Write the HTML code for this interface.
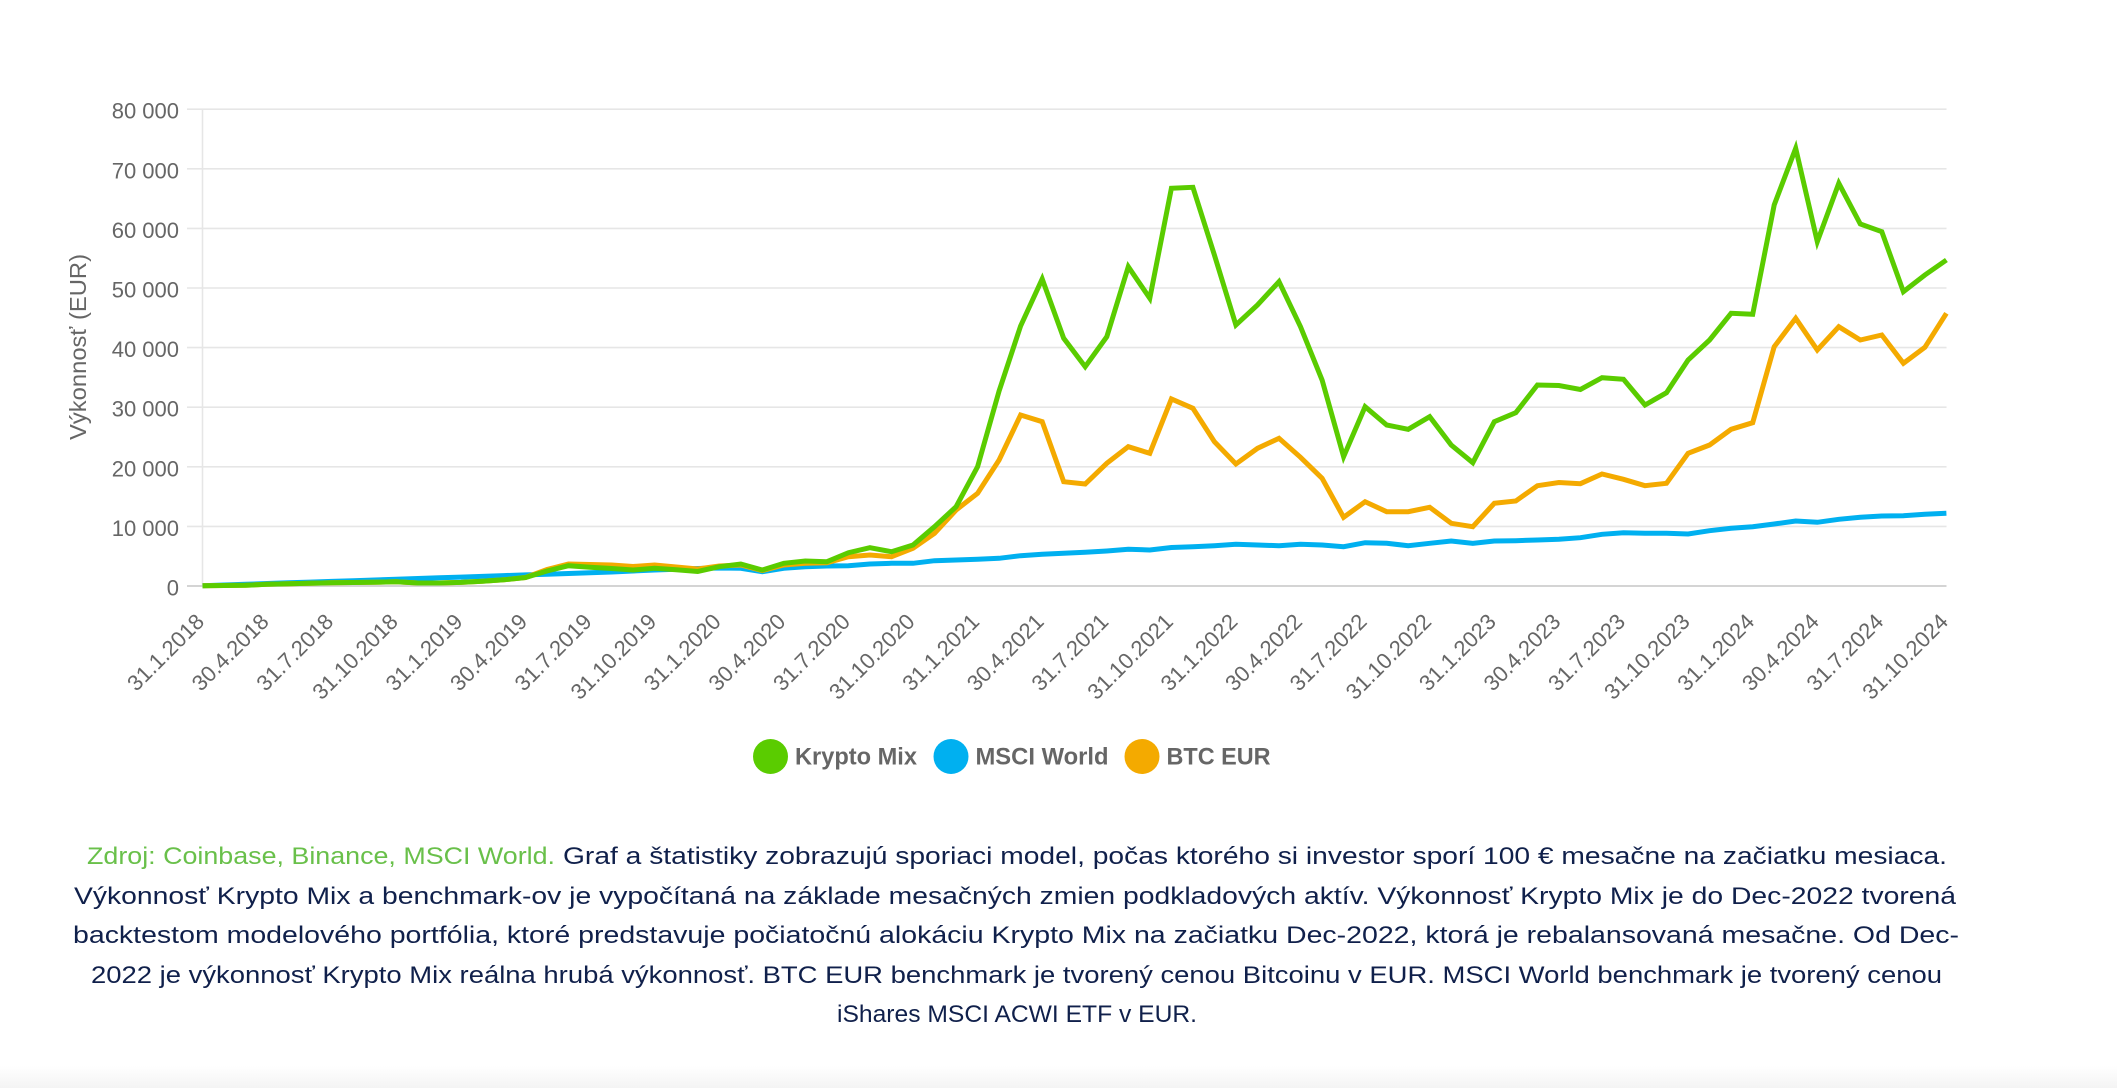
<!DOCTYPE html>
<html>
<head>
<meta charset="utf-8">
<style>
  html, body { margin:0; padding:0; background:#ffffff; }
  svg { display:block; }
</style>
</head>
<body>
<svg width="2117" height="1088" viewBox="0 0 2117 1088" xmlns="http://www.w3.org/2000/svg">
  <defs>
    <linearGradient id="bot" x1="0" y1="0" x2="0" y2="1">
      <stop offset="0" stop-color="#ffffff"/>
      <stop offset="1" stop-color="#f4f4f4"/>
    </linearGradient>
  </defs>
  <rect x="0" y="0" width="2117" height="1088" fill="#ffffff"/>
  <rect x="0" y="1066" width="2117" height="22" fill="url(#bot)"/>

  <!-- gridlines -->
  <g stroke="#e6e6e6" stroke-width="1.6" fill="none">
    <line x1="187" y1="109.2" x2="1946.5" y2="109.2"/>
    <line x1="187" y1="168.8" x2="1946.5" y2="168.8"/>
    <line x1="187" y1="228.4" x2="1946.5" y2="228.4"/>
    <line x1="187" y1="288" x2="1946.5" y2="288"/>
    <line x1="187" y1="347.6" x2="1946.5" y2="347.6"/>
    <line x1="187" y1="407.2" x2="1946.5" y2="407.2"/>
    <line x1="187" y1="466.8" x2="1946.5" y2="466.8"/>
    <line x1="187" y1="526.4" x2="1946.5" y2="526.4"/>
    <line x1="202.5" y1="109" x2="202.5" y2="586"/>
  </g>
  <line x1="187" y1="586" x2="1946.5" y2="586" stroke="#d4d4d4" stroke-width="2"/>

  <!-- y labels -->
  <g font-family="'Liberation Sans', Arial, sans-serif" font-size="22" fill="#666666" text-anchor="end">
    <text x="179" y="118.7">80 000</text>
    <text x="179" y="178.3">70 000</text>
    <text x="179" y="237.9">60 000</text>
    <text x="179" y="297.5">50 000</text>
    <text x="179" y="357.1">40 000</text>
    <text x="179" y="416.7">30 000</text>
    <text x="179" y="476.3">20 000</text>
    <text x="179" y="535.9">10 000</text>
    <text x="179" y="595.5">0</text>
  </g>

  <!-- y axis title -->
  <text transform="translate(86,347) rotate(-90)" text-anchor="middle" font-family="'Liberation Sans', Arial, sans-serif" font-size="23" fill="#666666" textLength="186" lengthAdjust="spacingAndGlyphs">Výkonnosť (EUR)</text>

  <!-- x labels -->
  <g font-family="'Liberation Sans', Arial, sans-serif" font-size="22" fill="#666666" text-anchor="end">
    <text transform="translate(205.5,623) rotate(-45)">31.1.2018</text>
    <text transform="translate(270.1,623) rotate(-45)">30.4.2018</text>
    <text transform="translate(334.7,623) rotate(-45)">31.7.2018</text>
    <text transform="translate(399.3,623) rotate(-45)">31.10.2018</text>
    <text transform="translate(463.9,623) rotate(-45)">31.1.2019</text>
    <text transform="translate(528.5,623) rotate(-45)">30.4.2019</text>
    <text transform="translate(593,623) rotate(-45)">31.7.2019</text>
    <text transform="translate(657.6,623) rotate(-45)">31.10.2019</text>
    <text transform="translate(722.2,623) rotate(-45)">31.1.2020</text>
    <text transform="translate(786.8,623) rotate(-45)">30.4.2020</text>
    <text transform="translate(851.4,623) rotate(-45)">31.7.2020</text>
    <text transform="translate(916,623) rotate(-45)">31.10.2020</text>
    <text transform="translate(980.6,623) rotate(-45)">31.1.2021</text>
    <text transform="translate(1045.2,623) rotate(-45)">30.4.2021</text>
    <text transform="translate(1109.8,623) rotate(-45)">31.7.2021</text>
    <text transform="translate(1174.4,623) rotate(-45)">31.10.2021</text>
    <text transform="translate(1238.9,623) rotate(-45)">31.1.2022</text>
    <text transform="translate(1303.5,623) rotate(-45)">30.4.2022</text>
    <text transform="translate(1368.1,623) rotate(-45)">31.7.2022</text>
    <text transform="translate(1432.7,623) rotate(-45)">31.10.2022</text>
    <text transform="translate(1497.3,623) rotate(-45)">31.1.2023</text>
    <text transform="translate(1561.9,623) rotate(-45)">30.4.2023</text>
    <text transform="translate(1626.5,623) rotate(-45)">31.7.2023</text>
    <text transform="translate(1691.1,623) rotate(-45)">31.10.2023</text>
    <text transform="translate(1755.7,623) rotate(-45)">31.1.2024</text>
    <text transform="translate(1820.3,623) rotate(-45)">30.4.2024</text>
    <text transform="translate(1884.8,623) rotate(-45)">31.7.2024</text>
    <text transform="translate(1949.4,623) rotate(-45)">31.10.2024</text>
  </g>

  <!-- MSCI World (blue) -->
  <polyline fill="none" stroke="#00b0f0" stroke-width="5" stroke-linejoin="miter" stroke-miterlimit="6" points="202.5,585.7 224,585 245.6,584.3 267.1,583.5 288.6,582.8 310.2,582.1 331.7,581.4 353.2,580.7 374.7,580 396.3,579.2 417.8,578.5 439.3,577.8 460.9,577.1 482.4,576.4 503.9,575.6 525.5,574.9 547,574.3 568.5,573.5 590,572.7 611.6,572 633.1,571 654.6,570 676.2,569.3 697.7,568.5 719.2,568 740.8,568.3 762.3,571.7 783.8,568.3 805.3,566.7 826.9,566 848.4,565.7 869.9,564 891.5,563.3 913,563.3 934.5,560.7 956.1,560 977.6,559.3 999.1,558.3 1020.6,555.7 1042.2,554.3 1063.7,553.3 1085.2,552.3 1106.8,551 1128.3,549.3 1149.8,550 1171.4,547.5 1192.9,546.7 1214.4,545.7 1235.9,544.3 1257.5,545 1279,545.7 1300.5,544.3 1322.1,545 1343.6,546.7 1365.1,542.7 1386.7,543.3 1408.2,545.7 1429.7,543.3 1451.2,541 1472.8,543.3 1494.3,541 1515.8,540.7 1537.4,540 1558.9,539.2 1580.4,537.7 1602,534.3 1623.5,532.7 1645,533.3 1666.5,533.3 1688.1,534 1709.6,530.7 1731.1,528.3 1752.7,526.7 1774.2,524 1795.7,521 1817.3,522.3 1838.8,519.3 1860.3,517.3 1881.8,516 1903.4,515.7 1924.9,514.3 1946.4,513.3"/>

  <!-- BTC EUR (orange) -->
  <polyline fill="none" stroke="#f4aa00" stroke-width="5" stroke-linejoin="miter" stroke-miterlimit="6" points="202.5,585.7 224,585.5 245.6,585.3 267.1,584.3 288.6,583.8 310.2,583.3 331.7,582.8 353.2,582.5 374.7,582.2 396.3,581.8 417.8,583 439.3,583 460.9,582.4 482.4,581.2 503.9,579.8 525.5,577.5 547,569.5 568.5,564 590,564.5 611.6,565 633.1,566.5 654.6,565 676.2,567 697.7,569 719.2,566 740.8,565 762.3,570.5 783.8,565 805.3,563.3 826.9,562.7 848.4,556.7 869.9,555 891.5,556.7 913,548.3 934.5,533.3 956.1,510 977.6,493.3 999.1,460 1020.6,415 1042.2,421.7 1063.7,481.7 1085.2,484 1106.8,463.3 1128.3,446.7 1149.8,453.3 1171.4,399 1192.9,408.3 1214.4,441.7 1235.9,464 1257.5,448.3 1279,438.3 1300.5,457.3 1322.1,478.3 1343.6,517.3 1365.1,501.7 1386.7,511.7 1408.2,511.7 1429.7,507.3 1451.2,523.3 1472.8,526.7 1494.3,503.3 1515.8,501 1537.4,485.7 1558.9,482.5 1580.4,483.7 1602,474 1623.5,479.3 1645,485.7 1666.5,483.3 1688.1,453.3 1709.6,445 1731.1,429.3 1752.7,422.7 1774.2,346.7 1795.7,318.3 1817.3,350 1838.8,326.7 1860.3,340 1881.8,335 1903.4,363.3 1924.9,347.3 1946.4,313.3"/>

  <!-- Krypto Mix (green) -->
  <polyline fill="none" stroke="#5acc00" stroke-width="5" stroke-linejoin="miter" stroke-miterlimit="6" points="202.5,585.7 224,585.5 245.6,585.3 267.1,584.3 288.6,583.8 310.2,583.3 331.7,582.8 353.2,582.5 374.7,582.2 396.3,581.8 417.8,583 439.3,583 460.9,582.4 482.4,581.2 503.9,579.8 525.5,577.5 547,571 568.5,565.7 590,567.3 611.6,568.5 633.1,570 654.6,568.3 676.2,569.8 697.7,571.5 719.2,566.7 740.8,564 762.3,570 783.8,563.3 805.3,561 826.9,561.7 848.4,552.7 869.9,547.7 891.5,551.7 913,545 934.5,526.7 956.1,506.7 977.6,466.7 999.1,391 1020.6,326 1042.2,279 1063.7,338.3 1085.2,366.7 1106.8,336.7 1128.3,266.7 1149.8,298.3 1171.4,188.3 1192.9,187.3 1214.4,255 1235.9,325 1257.5,305 1279,281.7 1300.5,326.7 1322.1,380 1343.6,456.7 1365.1,406.7 1386.7,425 1408.2,429.3 1429.7,416.7 1451.2,445 1472.8,462.7 1494.3,421.7 1515.8,412.7 1537.4,385 1558.9,385.5 1580.4,389.5 1602,377.7 1623.5,379.3 1645,405 1666.5,392.7 1688.1,360 1709.6,340 1731.1,313.3 1752.7,314.3 1774.2,205 1795.7,148.3 1817.3,241.7 1838.8,183.3 1860.3,224 1881.8,231.7 1903.4,291.7 1924.9,275 1946.4,260"/>

  <!-- legend -->
  <circle cx="770.5" cy="756.5" r="17.5" fill="#5acc00"/>
  <circle cx="951" cy="756.5" r="17.5" fill="#00b0f0"/>
  <circle cx="1142" cy="756.5" r="17.5" fill="#f4aa00"/>
  <g font-family="'Liberation Sans', Arial, sans-serif" font-size="24" font-weight="bold" fill="#666666">
    <text x="795" y="764.5" textLength="122" lengthAdjust="spacingAndGlyphs">Krypto Mix</text>
    <text x="975.5" y="764.5" textLength="133" lengthAdjust="spacingAndGlyphs">MSCI World</text>
    <text x="1166.5" y="764.5" textLength="104" lengthAdjust="spacingAndGlyphs">BTC EUR</text>
  </g>

  <!-- footnote -->
  <g font-family="'Liberation Sans', Arial, sans-serif" font-size="24" fill="#10204b">
    <text x="87" y="864" fill="#69c04a" textLength="468" lengthAdjust="spacingAndGlyphs">Zdroj: Coinbase, Binance, MSCI World.</text>
    <text x="563" y="864" textLength="1384" lengthAdjust="spacingAndGlyphs">Graf a štatistiky zobrazujú sporiaci model, počas ktorého si investor sporí 100 € mesačne na začiatku mesiaca.</text>
    <text x="74" y="904" textLength="1882" lengthAdjust="spacingAndGlyphs">Výkonnosť Krypto Mix a benchmark-ov je vypočítaná na základe mesačných zmien podkladových aktív. Výkonnosť Krypto Mix je do Dec-2022 tvorená</text>
    <text x="73" y="943" textLength="1886" lengthAdjust="spacingAndGlyphs">backtestom modelového portfólia, ktoré predstavuje počiatočnú alokáciu Krypto Mix na začiatku Dec-2022, ktorá je rebalansovaná mesačne. Od Dec-</text>
    <text x="91" y="983" textLength="1851" lengthAdjust="spacingAndGlyphs">2022 je výkonnosť Krypto Mix reálna hrubá výkonnosť. BTC EUR benchmark je tvorený cenou Bitcoinu v EUR. MSCI World benchmark je tvorený cenou</text>
    <text x="837" y="1022" textLength="360" lengthAdjust="spacingAndGlyphs">iShares MSCI ACWI ETF v EUR.</text>
  </g>
</svg>
</body>
</html>
